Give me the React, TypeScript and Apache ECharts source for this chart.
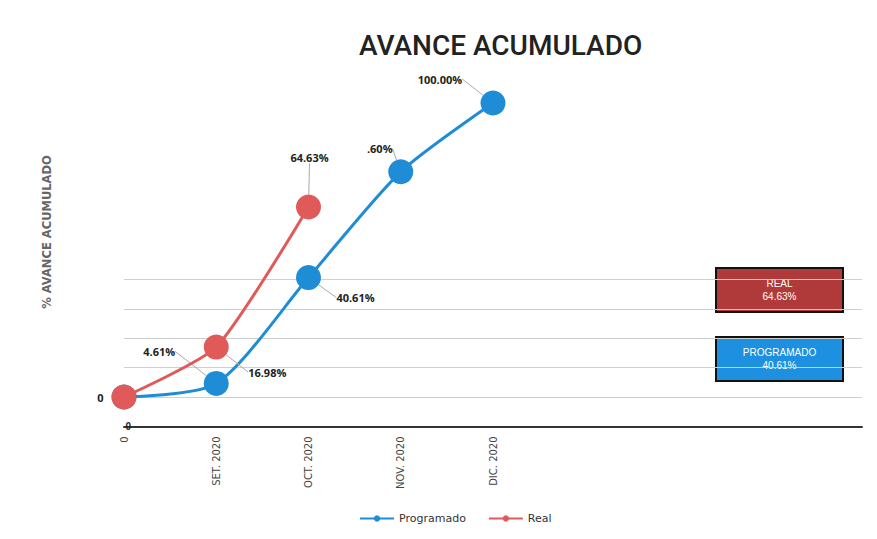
import React, { useEffect, useRef } from "react";
import * as echarts from "echarts";

const categories = ["0", "SET. 2020", "OCT. 2020", "NOV. 2020", "DIC. 2020", "", "", "", ""];
const programado = [0, 4.61, 40.61, 76.6, 100];
const real = [0, 16.98, 64.63];
const programadoLabels = ["", "4.61%", "40.61%", ".60%", "100.00%"];
const realLabels = ["0", "16.98%", "64.63%"];
const gridValues = [0, 10, 20, 30, 40];
const boxReal = { name: "REAL", value: 64.63 };
const boxProg = { name: "PROGRAMADO", value: 40.61 };

const BLUE = "#1f8dd6";
const RED = "#e05a5a";

// label offsets from default "top" position
const progOffsets = [[0, 0], [-57, -9], [47, 43], [-21, 0], [-53, -1]];
const realOffsets = [[0, 0], [51, 48], [1, -26]];

export default function App() {
  const ref = useRef<HTMLDivElement>(null);
  useEffect(() => {
    if (!ref.current) return;
    const chart = echarts.init(ref.current, null, { renderer: "svg" });
    const labelStyle = {
      show: true,
      position: "top",
      fontSize: 11,
      fontWeight: "bold",
      color: "#222",
      fontFamily: "Open Sans",
    };
    chart.setOption({
      animation: false,
      backgroundColor: "#ffffff",
      title: {
        text: "AVANCE ACUMULADO",
        left: 354,
        top: 26,
        textStyle: { fontFamily: "Roboto", fontWeight: 500, fontSize: 28, color: "#222" },
      },
      legend: {
        bottom: 10,
        left: 354,
        itemWidth: 34,
        itemHeight: 8,
        itemGap: 22,
        textStyle: { fontSize: 11, color: "#333", fontFamily: "DejaVu Sans" },
        data: ["Programado", "Real"],
      },
      grid: { left: 124, right: 15, top: 73.6, bottom: 112.6, containLabel: false },
      xAxis: {
        type: "category",
        data: categories,
        boundaryGap: false,
        axisLine: { onZero: false, lineStyle: { color: "#333", width: 2 } },
        axisTick: { show: false },
        axisLabel: { rotate: 90, fontSize: 10, color: "#444", margin: 10, interval: 0, fontFamily: "DejaVu Sans" },
      },
      yAxis: {
        type: "value",
        min: -10,
        max: 110,
        interval: 10,
        axisLine: { show: false },
        axisTick: { show: false },
        splitLine: { show: false },
        axisLabel: {
          fontSize: 10,
          fontWeight: "bold",
          color: "#222",
          margin: -7,
          formatter: (v: number) => (v === -10 ? "0" : ""),
        },
      },
      series: [
        {
          name: "Programado",
          type: "line",
          data: programado.map((v, i) =>
            i === 0 ? { value: v, label: { show: false }, labelLine: { show: false } } : v
          ),
          smooth: 0.25,
          symbol: "circle",
          symbolSize: 25,
          lineStyle: { color: BLUE, width: 3 },
          itemStyle: { color: BLUE },
          label: { ...labelStyle, formatter: (p: any) => programadoLabels[p.dataIndex] },
          labelLine: { show: true, lineStyle: { color: "#aaa", width: 1 } },
          labelLayout: (p: any) => ({ dx: progOffsets[p.dataIndex][0], dy: progOffsets[p.dataIndex][1] }),
          markLine: {
            silent: true,
            symbol: "none",
            label: { show: false },
            lineStyle: { color: "#cfcfcf", width: 1, type: "solid" },
            data: gridValues.map((v) => ({ yAxis: v })),
            z: 0,
          },
          z: 2,
        },
        {
          name: "Real",
          type: "line",
          data: real.map((v, i) =>
            i === 0 ? { value: v, label: { position: "left", distance: 8 }, labelLine: { show: false } } : v
          ),
          smooth: 0.2,
          symbol: "circle",
          symbolSize: 25,
          lineStyle: { color: RED, width: 3 },
          itemStyle: { color: RED },
          label: { ...labelStyle, formatter: (p: any) => realLabels[p.dataIndex] },
          labelLine: { show: true, lineStyle: { color: "#aaa", width: 1 } },
          labelLayout: (p: any) => ({ dx: realOffsets[p.dataIndex][0], dy: realOffsets[p.dataIndex][1] }),
          z: 3,
        },
      ],
      graphic: [
        {
          type: "text",
          x: 47,
          y: 232,
          rotation: Math.PI / 2,
          style: {
            text: "% AVANCE ACUMULADO",
            fontSize: 11.5,
            fontWeight: "bold",
            fill: "#666",
            fontFamily: "DejaVu Sans",
            align: "center",
            verticalAlign: "middle",
          },
        },
        {
          type: "group",
          left: 715,
          top: 267,
          children: [
            { type: "rect", shape: { x: 0, y: 0, width: 127, height: 44 }, style: { fill: "#b03a3a", stroke: "#111", lineWidth: 2 } },
            {
              type: "text",
              x: 63.5,
              y: 22,
              style: {
                text: boxReal.name + "\n" + boxReal.value.toFixed(2) + "%",
                fill: "#fff",
                fontSize: 10,
                lineHeight: 13,
                fontFamily: "Liberation Sans",
                align: "center",
                verticalAlign: "middle",
              },
            },
          ],
        },
        {
          type: "group",
          left: 715,
          top: 336,
          children: [
            { type: "rect", shape: { x: 0, y: 0, width: 127, height: 44 }, style: { fill: "#1e90e0", stroke: "#111", lineWidth: 2 } },
            {
              type: "text",
              x: 63.5,
              y: 22,
              style: {
                text: boxProg.name + "\n" + boxProg.value.toFixed(2) + "%",
                fill: "#fff",
                fontSize: 10,
                lineHeight: 13,
                fontFamily: "Liberation Sans",
                align: "center",
                verticalAlign: "middle",
              },
            },
          ],
        },
      ],
    });
    return () => chart.dispose();
  }, []);
  return <div ref={ref} style={{ position: "absolute", left: 0, top: 0, width: 877, height: 539 }} />;
}
